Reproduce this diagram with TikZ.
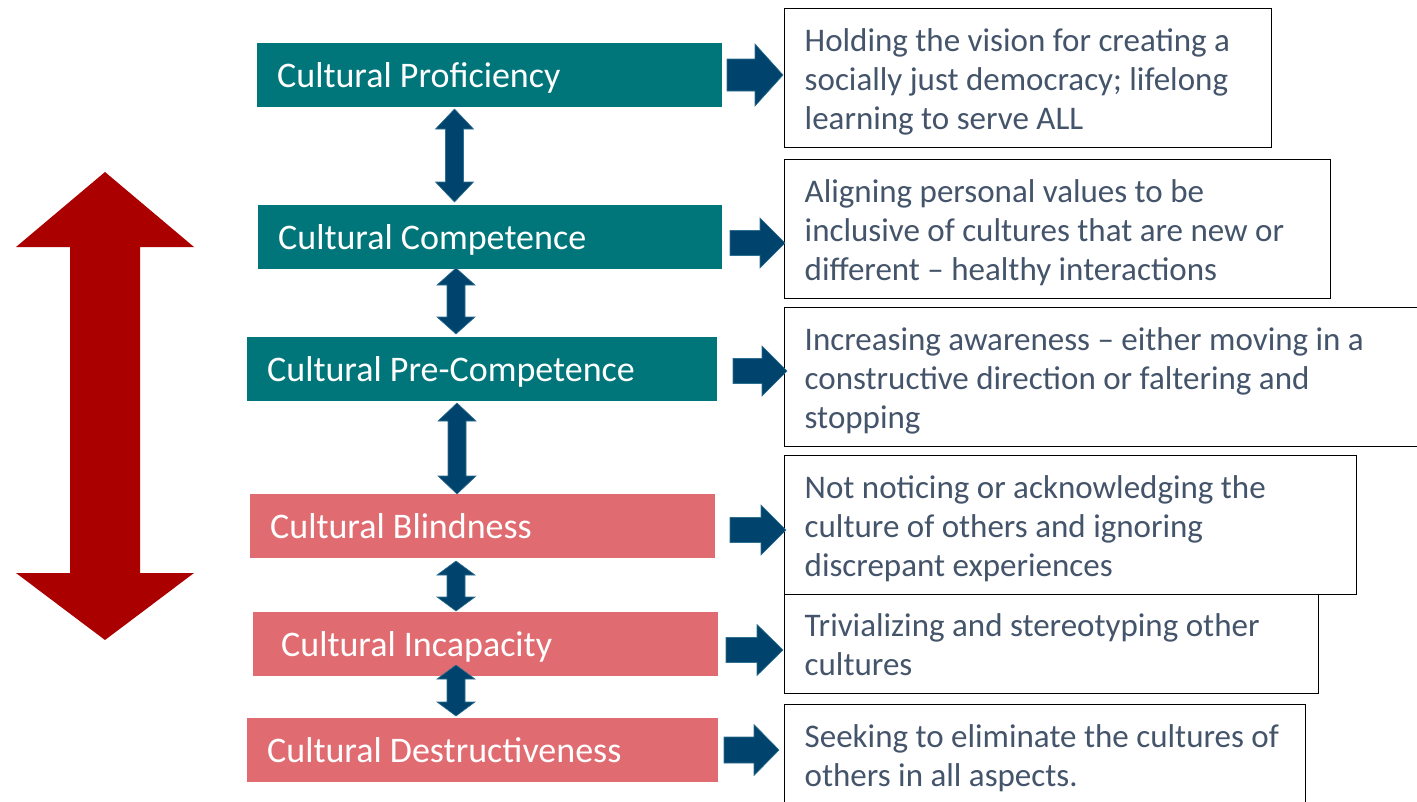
\documentclass[tikz,border=0pt]{standalone}
\usepackage{fontspec}
\setmainfont{Carlito}
\definecolor{myteal}{HTML}{00767A}
\definecolor{mypink}{HTML}{E06C71}
\definecolor{myred}{HTML}{AA0000}
\definecolor{myblue}{HTML}{00446E}
\definecolor{myedge}{HTML}{2F6F8F}
\definecolor{mytext}{HTML}{44546A}
\tikzset{
  lbox/.style={rectangle, anchor=north west, minimum height=64pt, inner xsep=20pt, inner ysep=0pt, align=flush left, text=white, font=\fontsize{36}{40}\selectfont,
    execute at begin node={\rule{0pt}{30pt}}, execute at end node={\rule[-6pt]{0pt}{6pt}}},
  rbox/.style={rectangle, draw=black, line width=1.4pt, fill=white, anchor=north west, inner xsep=20pt, inner ysep=0pt, align=flush left, text=mytext, font=\fontsize{33}{39}\selectfont,
    execute at begin node={\rule{0pt}{32pt}}, execute at end node={\rule[-8pt]{0pt}{8pt}}},
  barrow/.style={fill=myblue, draw=myedge, line width=0.6pt, line join=miter},
}
\newcommand\vdarrow[4]{%
  \filldraw[barrow] ({#1},{#2}) -- ({#1+19},{#2+#4}) -- ({#1+9},{#2+#4}) -- ({#1+9},{#3-#4}) -- ({#1+19},{#3-#4}) -- ({#1},{#3}) -- ({#1-19},{#3-#4}) -- ({#1-9},{#3-#4}) -- ({#1-9},{#2+#4}) -- ({#1-19},{#2+#4}) -- cycle;}
\newcommand\rtarrow[6]{%
  \filldraw[barrow] ({#1},{#4-#5}) -- ({#2},{#4-#5}) -- ({#2},{#4-#6}) -- ({#3},{#4}) -- ({#2},{#4+#6}) -- ({#2},{#4+#5}) -- ({#1},{#4+#5}) -- cycle;}
\begin{document}
\begin{tikzpicture}[x=1pt,y=-1pt]
\useasboundingbox (0,0) rectangle (1417,801);
% red double arrow
\fill[myred] (105,172) -- (194,247) -- (140,247) -- (140,573) -- (194,573) -- (105,640) -- (16,573) -- (70,573) -- (70,247) -- (16,247) -- cycle;
% left boxes
\node[lbox, fill=myteal, minimum width=465pt, text width=425pt] (p1) at (257,43) {Cultural Proficiency};
\node[lbox, fill=myteal, minimum width=464pt, text width=424pt] (p2) at (258,205) {Cultural Competence};
\node[lbox, fill=myteal, minimum width=470pt, text width=430pt] (p3) at (247,337) {Cultural Pre-Competence};
\node[lbox, fill=mypink, minimum width=465pt, text width=425pt] (p4) at (250,494) {Cultural Blindness};
\node[lbox, fill=mypink, minimum width=465pt, text width=409pt, inner xsep=28pt] (p5) at (253,612) {Cultural Incapacity};
\node[lbox, fill=mypink, minimum width=471pt, text width=431pt] (p6) at (247,718) {Cultural Destructiveness};
% vertical double arrows
\vdarrow{454.5}{109}{202}{20}
\vdarrow{456}{268}{334}{17}
\vdarrow{457}{403}{494}{18}
\vdarrow{456}{561}{611}{14}
\vdarrow{456}{665}{716}{14}
% right boxes
\node[rbox, minimum width=487pt, minimum height=139pt, text width=447pt] (d1) at (784,8) {Holding the vision for creating a\\socially just democracy; lifelong\\learning to serve ALL};
\node[rbox, minimum width=546pt, minimum height=139pt, text width=506pt] (d2) at (784,159) {Aligning personal values to be\\inclusive of cultures that are new or\\different -- healthy interactions};
\node[rbox, minimum width=640pt, minimum height=139pt, text width=600pt] (d3) at (784,307) {Increasing awareness -- either moving in a\\constructive direction or faltering and\\stopping};
\node[rbox, minimum width=572pt, minimum height=139pt, text width=532pt] (d4) at (784,455) {Not noticing or acknowledging the\\culture of others and ignoring\\discrepant experiences};
\node[rbox, minimum width=534pt, minimum height=99pt, text width=494pt] (d5) at (784,594) {Trivializing and stereotyping other\\cultures};
\node[rbox, minimum width=521pt, minimum height=101pt, text width=481pt] (d6) at (784,704) {Seeking to eliminate the cultures of\\others in all aspects.};
% right arrows
\rtarrow{727}{755}{783}{75}{16}{31}
\rtarrow{730}{760}{785}{243}{12.5}{25}
\rtarrow{733}{762}{787}{371}{12.5}{25}
\rtarrow{730}{761}{786}{530}{12.5}{25}
\rtarrow{726}{757}{783}{650}{12.5}{25.5}
\rtarrow{724}{754}{779}{750}{13}{25.5}
\end{tikzpicture}
\end{document}
